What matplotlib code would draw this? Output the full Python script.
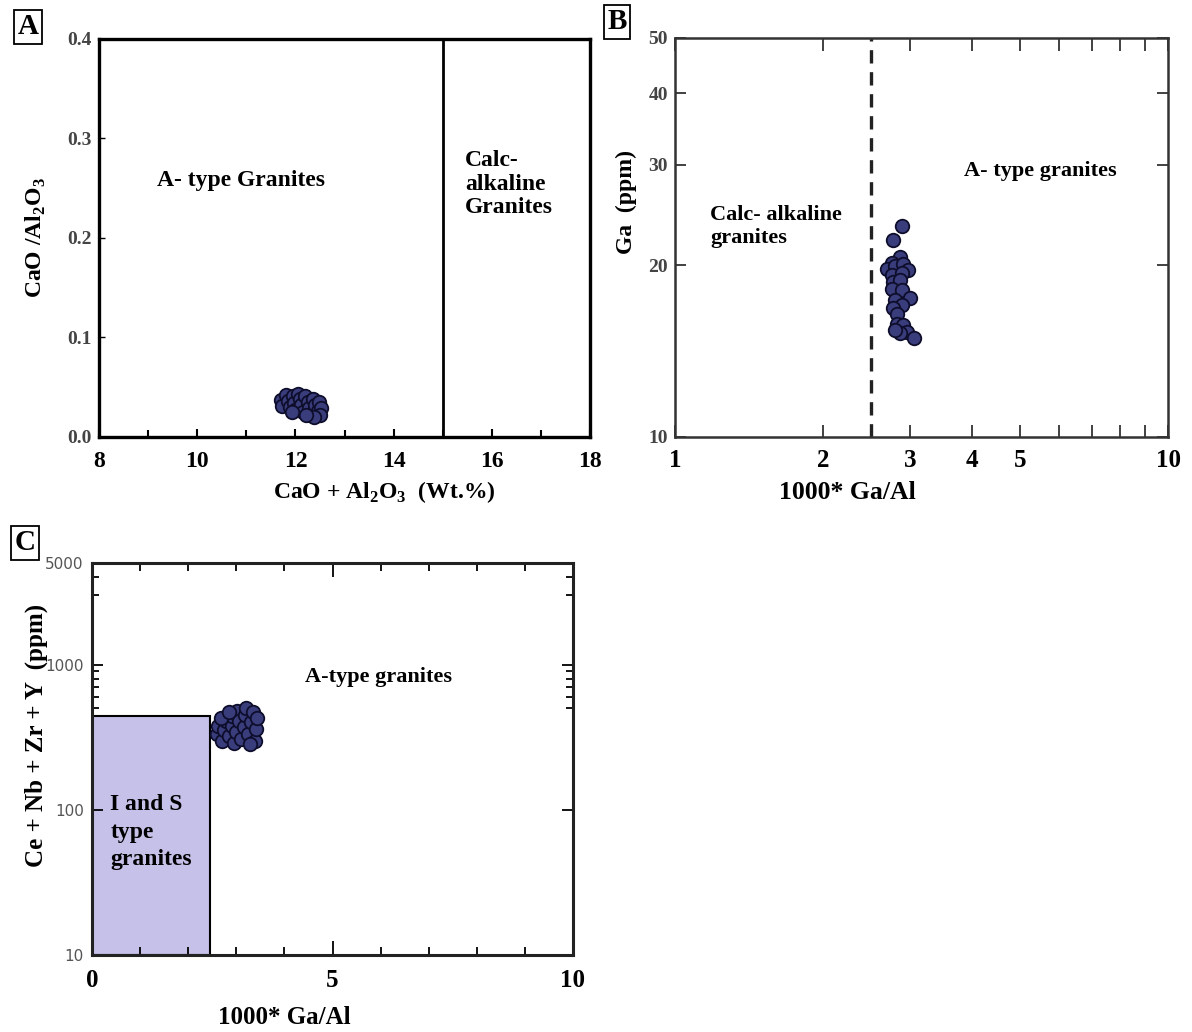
import matplotlib
matplotlib.use('Agg')
import matplotlib.pyplot as plt
import matplotlib.ticker as mticker
from matplotlib.patches import Rectangle

plt.rcParams['font.family'] = ['Liberation Serif', 'DejaVu Serif']
plt.rcParams['font.weight'] = 'bold'
plt.rcParams['mathtext.fontset'] = 'custom'
plt.rcParams['mathtext.rm'] = 'Liberation Serif:bold'

# A: CaO/Al2O3 vs CaO + Al2O3
caal_sum = [11.70, 11.72, 11.80, 11.85, 11.88, 11.95, 11.98, 12.00, 12.05, 12.10,
            12.12, 12.15, 12.20, 12.25, 12.28, 12.30, 12.35, 12.40, 12.45, 12.48,
            12.52, 12.50, 11.92, 12.38, 12.22]
caal_ratio = [0.037, 0.031, 0.042, 0.036, 0.030, 0.041, 0.034, 0.027, 0.043, 0.038,
              0.032, 0.025, 0.041, 0.035, 0.029, 0.022, 0.038, 0.032, 0.026, 0.035,
              0.029, 0.022, 0.025, 0.020, 0.022]
a_boundary = 15

# B: Ga vs 1000*Ga/Al
gaal_b = [2.88, 2.77, 2.86, 2.75, 2.69, 2.79, 2.90, 2.97, 2.76, 2.88, 2.77, 2.86,
          2.75, 2.88, 3.00, 2.79, 2.88, 2.77, 2.82, 2.82, 2.90, 2.95, 3.05, 2.86, 2.79]
ga_ppm = [23.4, 22.1, 20.7, 20.2, 19.7, 19.9, 20.1, 19.6, 19.2, 19.4, 18.7, 18.8,
          18.2, 18.1, 17.5, 17.4, 17.0, 16.8, 16.4, 15.8, 15.7, 15.3, 14.9, 15.2, 15.4]
b_boundary = 2.5

# C: Ce+Nb+Zr+Y vs 1000*Ga/Al
gaal_c = [2.60, 2.62, 2.70, 2.75, 2.78, 2.85, 2.90, 2.92, 2.95, 3.00, 3.02, 3.05,
          3.10, 3.15, 3.18, 3.20, 3.25, 3.30, 3.35, 3.38, 3.40, 3.42, 2.68, 2.85, 3.28]
hfse_sum = [330, 380, 300, 355, 410, 320, 380, 440, 290, 345, 480, 410,
            305, 370, 450, 500, 330, 400, 470, 300, 360, 430, 430, 470, 285]
is_field_gaal = 2.45
is_field_hfse = 440

dot = dict(s=95, c='#3a3d7c', edgecolors='#0e0e2c', linewidths=1.3, zorder=5)

fig = plt.figure(figsize=(11.92, 10.32), dpi=100)


def panel_tag(x, y, letter):
    fig.text(x, y, letter, fontsize=21, fontweight='bold', ha='center', va='center',
             bbox=dict(boxstyle='square,pad=0.12', fc='white', ec='black', lw=1.3))


# ---- A ----
ax = fig.add_axes([0.0831, 0.5766, 0.4119, 0.3857])
ax.set_xlim(8, 18)
ax.set_ylim(0, 0.4)
ax.axvline(a_boundary, color='black', lw=2.0)
ax.scatter(caal_sum, caal_ratio, **dot)
ax.set_xticks([8, 10, 12, 14, 16, 18])
ax.xaxis.set_minor_locator(mticker.MultipleLocator(1))
ax.set_yticks([0.0, 0.1, 0.2, 0.3, 0.4])
ax.set_yticklabels(['0.0', '0.1', '0.2', '0.3', '0.4'], color='#444444')
ax.tick_params(axis='x', which='both', direction='in', labelsize=17, pad=10, width=1.5)
ax.tick_params(axis='x', which='major', length=6)
ax.tick_params(axis='x', which='minor', length=5)
ax.tick_params(axis='y', direction='in', labelsize=14, length=4, pad=5, width=1)
for s in ax.spines.values():
    s.set_linewidth(2.4)
ax.set_xlabel(r'CaO + Al$_\mathregular{2}$O$_\mathregular{3}$  (Wt.%)', fontsize=17,
              fontweight='bold')
ax.xaxis.set_label_coords(0.58, -0.105)
ax.set_ylabel(r'CaO /Al$_\mathregular{2}$O$_\mathregular{3}$', fontsize=17, fontweight='bold')
ax.yaxis.set_label_coords(-0.105, 0.5)
ax.text(10.9, 0.258, 'A- type Granites', fontsize=17, ha='center', va='center')
ax.text(15.45, 0.254, 'Calc-\nalkaline\nGranites', fontsize=17, ha='left', va='center',
        linespacing=1.15)
panel_tag(0.0235, 0.974, 'A')

# ---- B ----
bx = fig.add_axes([0.5663, 0.5766, 0.4136, 0.3866])
bx.set_xscale('log')
bx.set_yscale('log')
bx.set_xlim(1, 10)
bx.set_ylim(10, 50)
bx.axvline(b_boundary, color='#222222', lw=2.4, ls=(0, (4, 2.6)))
bx.scatter(gaal_b, ga_ppm, **dot)
bx.xaxis.set_major_locator(mticker.FixedLocator([1, 2, 3, 4, 5, 10]))
bx.xaxis.set_major_formatter(mticker.FixedFormatter(['1', '2', '3', '4', '5', '10']))
bx.xaxis.set_minor_locator(mticker.FixedLocator([6, 7, 8, 9]))
bx.xaxis.set_minor_formatter(mticker.NullFormatter())
bx.yaxis.set_major_locator(mticker.FixedLocator([10, 20, 30, 40, 50]))
bx.yaxis.set_major_formatter(mticker.FixedFormatter(['10', '20', '30', '40', '50']))
bx.yaxis.set_minor_locator(mticker.NullLocator())
bx.tick_params(axis='x', which='both', direction='in', top=True, labelsize=18, pad=9,
               length=9, width=1.3, color='#333333')
bx.tick_params(axis='y', direction='in', right=True, labelsize=14, length=8, width=1.3,
               pad=5, labelcolor='#444444', color='#333333')
for s in bx.spines.values():
    s.set_linewidth(1.8)
    s.set_color('#333333')
bx.set_xlabel('1000* Ga/Al', fontsize=18.5, fontweight='bold')
bx.xaxis.set_label_coords(0.35, -0.11)
bx.set_ylabel('Ga  (ppm)', fontsize=17, fontweight='bold')
bx.yaxis.set_label_coords(-0.078, 0.59)
bx.text(1.18, 23.4, 'Calc- alkaline\ngranites', fontsize=16, ha='left', va='center',
        linespacing=1.2)
bx.text(5.5, 29.2, 'A- type granites', fontsize=16, ha='center', va='center')
panel_tag(0.5176, 0.9787, 'B')

# ---- C ----
cx = fig.add_axes([0.0772, 0.0746, 0.4035, 0.3798])
cx.set_yscale('log')
cx.set_xlim(0, 10)
cx.set_ylim(10, 5000)
cx.add_patch(Rectangle((0, 10), is_field_gaal, is_field_hfse - 10, fc='#c5c1e8',
                       ec='black', lw=1.5, zorder=1))
cx.scatter(gaal_c, hfse_sum, **dot)
cx.set_xticks([0, 5, 10])
cx.xaxis.set_minor_locator(mticker.MultipleLocator(1))
cx.yaxis.set_major_locator(mticker.FixedLocator([10, 100, 1000, 5000]))
cx.yaxis.set_major_formatter(mticker.FixedFormatter(['10', '100', '1000', '5000']))
cx.yaxis.set_minor_locator(mticker.FixedLocator([500, 600, 700, 800, 900, 3000, 4000]))
cx.yaxis.set_minor_formatter(mticker.NullFormatter())
cx.tick_params(axis='x', which='both', direction='in', top=True, labelsize=18, pad=10,
               width=1.3)
cx.tick_params(axis='x', which='major', length=10)
cx.tick_params(axis='x', which='minor', length=6)
cx.tick_params(axis='y', which='both', direction='in', right=True, width=1.3, pad=6)
cx.tick_params(axis='y', which='major', length=8)
cx.tick_params(axis='y', which='minor', length=5)
for lab in cx.get_yticklabels():
    lab.set_fontfamily('DejaVu Sans')
    lab.set_fontweight('normal')
    lab.set_fontsize(11)
    lab.set_color('#555555')
for s in cx.spines.values():
    s.set_linewidth(2.2)
    s.set_color('#222222')
cx.set_xlabel('1000* Ga/Al', fontsize=18, fontweight='bold')
cx.xaxis.set_label_coords(0.40, -0.13)
cx.set_ylabel('Ce + Nb + Zr + Y  (ppm)', fontsize=18, fontweight='bold')
cx.yaxis.set_label_coords(-0.092, 0.56)
cx.text(5.95, 820, 'A-type granites', fontsize=16, ha='center', va='center')
cx.text(0.38, 70, 'I and S\ntype\ngranites', fontsize=17, ha='left', va='center',
        linespacing=1.4)
panel_tag(0.021, 0.474, 'C')

fig.savefig('out.png', dpi=100)
